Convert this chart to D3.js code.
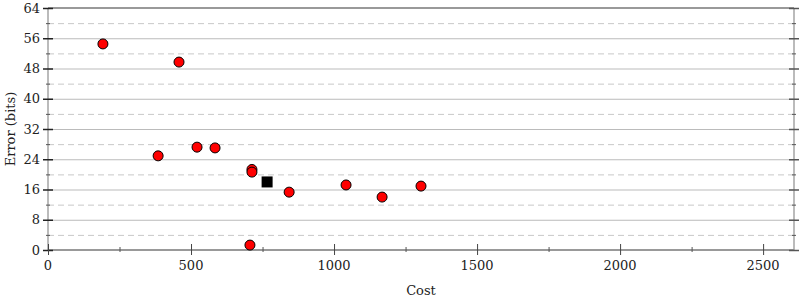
<!DOCTYPE html>
<html><head><meta charset="utf-8">
<script src="https://cdn.jsdelivr.net/npm/d3@7"></script>
<style>body{margin:0;background:#fff}svg{display:block}text{font-family:"DejaVu Serif",serif;fill:#222}</style>
</head><body><svg id="c" width="800" height="300"></svg>
<script>
const costs  = [192, 458, 385, 521, 584, 713, 713, 843, 1042, 1168, 1304, 706];
const errors = [54.5, 49.7, 24.9, 27.2, 27.0, 21.3, 20.6, 15.3, 17.2, 14.0, 16.9, 1.3];
const refCost = [766];
const refError = [18.0];
const xTicks = [0, 500, 1000, 1500, 2000, 2500];
const yTicks = [0, 8, 16, 24, 32, 40, 48, 56, 64];

const svg = d3.select("#c");
const L = 48, R = 794, T = 8, B = 250;
const x = d3.scaleLinear().domain([0, 2608]).range([L, R]);
const y = d3.scaleLinear().domain([0, 64]).range([B, T]);

// minor dashed grid
const minorY = d3.range(4, 64, 8);
svg.selectAll(".gm").data(minorY).enter().append("line")
  .attr("x1", L).attr("x2", R).attr("y1", d => y(d)+0.5).attr("y2", d => y(d)+0.5)
  .attr("stroke", "#c8c8c8").attr("stroke-dasharray", "6,4");
// major grid
svg.selectAll(".gM").data(yTicks.filter(d => d > 0 && d < 64)).enter().append("line")
  .attr("x1", L).attr("x2", R).attr("y1", d => y(d)+0.5).attr("y2", d => y(d)+0.5)
  .attr("stroke", "#bbbbbb");
// top line
svg.append("line").attr("x1", L).attr("x2", R).attr("y1", y(64)).attr("y2", y(64))
  .attr("stroke", "#999").attr("stroke-width", 2);
// left & right axis lines
svg.append("line").attr("x1", L).attr("x2", L).attr("y1", T).attr("y2", B)
  .attr("stroke", "#bbb").attr("stroke-width", 2);
svg.append("line").attr("x1", R).attr("x2", R).attr("y1", T).attr("y2", B)
  .attr("stroke", "#bbb").attr("stroke-width", 2);
// bottom axis line
svg.append("line").attr("x1", L).attr("x2", R).attr("y1", B).attr("y2", B)
  .attr("stroke", "#999").attr("stroke-width", 2);

// y ticks
svg.selectAll(".yt").data(yTicks).enter().append("line")
  .attr("x1", L-5).attr("x2", L+5).attr("y1", d => y(d)+0.5).attr("y2", d => y(d)+0.5)
  .attr("stroke", "#222").attr("stroke-width", 1.5);
svg.selectAll(".ytm").data(minorY).enter().append("line")
  .attr("x1", L-2).attr("x2", L+2).attr("y1", d => y(d)+0.5).attr("y2", d => y(d)+0.5)
  .attr("stroke", "#555");
svg.selectAll(".ytr").data(yTicks).enter().append("line")
  .attr("x1", R-5).attr("x2", R+5).attr("y1", d => y(d)+0.5).attr("y2", d => y(d)+0.5)
  .attr("stroke", "#555").attr("stroke-width", 1.5);
svg.selectAll(".ytrm").data(minorY).enter().append("line")
  .attr("x1", R-2).attr("x2", R+2).attr("y1", d => y(d)+0.5).attr("y2", d => y(d)+0.5)
  .attr("stroke", "#555");
svg.selectAll(".yl").data(yTicks).enter().append("text")
  .attr("x", L-8).attr("y", d => y(d)).attr("dy", "0.35em")
  .attr("text-anchor", "end").attr("font-size", 13).text(d => d);

// x ticks
svg.selectAll(".xt").data(xTicks).enter().append("line")
  .attr("x1", d => x(d)+0.5).attr("x2", d => x(d)+0.5).attr("y1", B-6).attr("y2", B+5)
  .attr("stroke", "#444");
const minorX = d3.range(250, 2608, 500);
svg.selectAll(".xtm").data(minorX).enter().append("line")
  .attr("x1", d => x(d)+0.5).attr("x2", d => x(d)+0.5).attr("y1", B-3).attr("y2", B+2)
  .attr("stroke", "#555");
svg.selectAll(".xl").data(xTicks).enter().append("text")
  .attr("x", d => x(d)).attr("y", B+20)
  .attr("text-anchor", "middle").attr("font-size", 13).text(d => d);

// axis titles
svg.append("text").attr("x", 421).attr("y", 295).attr("text-anchor", "middle")
  .attr("font-size", 13).text("Cost");
svg.append("text").attr("transform", "translate(15,129) rotate(-90)")
  .attr("text-anchor", "middle").attr("font-size", 13).text("Error (bits)");

// points
const pts = costs.map((c, i) => ({c, e: errors[i]}));
svg.selectAll(".p").data(pts).enter().append("circle")
  .attr("cx", d => x(d.c)).attr("cy", d => y(d.e)).attr("r", 5)
  .attr("fill", "#ff0000").attr("stroke", "#000").attr("stroke-width", 1);
svg.selectAll(".s").data(refCost.map((c, i) => ({c, e: refError[i]}))).enter().append("rect")
  .attr("x", d => x(d.c)-5.5).attr("y", d => y(d.e)-5.5).attr("width", 11).attr("height", 11)
  .attr("fill", "#000");
</script></body></html>
